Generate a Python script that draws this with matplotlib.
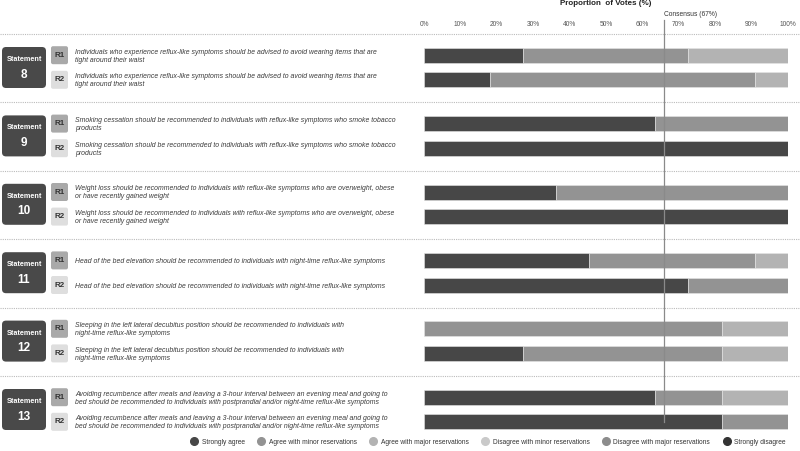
import matplotlib.pyplot as plt
from matplotlib.patches import FancyBboxPatch
from matplotlib.lines import Line2D

plt.rcParams["font.family"] = ["Liberation Sans", "DejaVu Sans"]

# ── data ────────────────────────────────────────────────────────────────
statements = ["8", "9", "10", "11", "12", "13"]
statement_texts = [
    "Individuals who experience reflux-like symptoms should be advised to avoid wearing items that are\ntight around their waist",
    "Smoking cessation should be recommended to individuals with reflux-like symptoms who smoke tobacco\nproducts",
    "Weight loss should be recommended to individuals with reflux-like symptoms who are overweight, obese\nor have recently gained weight",
    "Head of the bed elevation should be recommended to individuals with night-time reflux-like symptoms",
    "Sleeping in the left lateral decubitus position should be recommended to individuals with\nnight-time reflux-like symptoms",
    "Avoiding recumbence after meals and leaving a 3-hour interval between an evening meal and going to\nbed should be recommended to individuals with postprandial and/or night-time reflux-like symptoms",
]
categories = ["Strongly agree", "Agree with minor reservations", "Agree with major reservations",
              "Disagree with minor reservations", "Disagree with major reservations", "Strongly disagree"]
# % of votes per category, round 1 and round 2
round1 = [
    [27.3, 45.4, 27.3, 0, 0, 0],
    [63.6, 36.4, 0, 0, 0, 0],
    [36.4, 63.6, 0, 0, 0, 0],
    [45.5, 45.4, 9.1, 0, 0, 0],
    [0, 81.8, 18.2, 0, 0, 0],
    [63.6, 18.2, 18.2, 0, 0, 0],
]
round2 = [
    [18.2, 72.7, 9.1, 0, 0, 0],
    [100, 0, 0, 0, 0, 0],
    [100, 0, 0, 0, 0, 0],
    [72.7, 27.3, 0, 0, 0, 0],
    [27.3, 54.5, 18.2, 0, 0, 0],
    [81.8, 18.2, 0, 0, 0, 0],
]
ticks = [0, 10, 20, 30, 40, 50, 60, 70, 80, 90, 100]
consensus = 66  # drawn position; label says 67%

colors = ["#474747", "#939393", "#b3b3b3", "#c9c9c9", "#8c8c8c", "#333333"]

# ── layout (pixel units, y downward) ───────────────────────────────────
W, H = 800, 451
first_center = 67.5
group_step = 68.4
row_off = 12.3
bar_h = 15
bar_x0, bar_x1 = 424, 787.7

fig = plt.figure(figsize=(8, 4.51), dpi=100)
over = fig.add_axes([0, 0, 1, 1])
over.set_xlim(0, W)
over.set_ylim(H, 0)
over.axis("off")

ax = fig.add_axes([bar_x0 / W, 0, (bar_x1 - bar_x0) / W, 1])
ax.set_xlim(0, 100)
ax.set_ylim(H, 0)
ax.axis("off")
ax.patch.set_alpha(0)

# dotted separators
for i in range(len(statements)):
    yc = first_center + i * group_step
    over.plot([0, W], [yc - 33.5, yc - 33.5], color="#bbbbbb", lw=0.8,
              ls=(0, (1, 1)), zorder=1)

for i, s in enumerate(statements):
    yc = first_center + i * group_step
    # statement box
    over.add_patch(FancyBboxPatch((2, yc - 20.5), 44, 41,
                                  boxstyle="round,pad=0,rounding_size=4",
                                  fc="#494949", ec="none"))
    over.text(24, yc - 8, "Statement", color="white", fontsize=5.2,
              ha="center", va="center", fontweight="bold")
    over.text(24, yc + 7, s, color="white", fontsize=8.5,
              ha="center", va="center", fontweight="bold")
    for r, (lab, fc) in enumerate([("R1", "#a9a9a9"), ("R2", "#dedede")]):
        yr = yc + (2 * r - 1) * row_off
        over.add_patch(FancyBboxPatch((51, yr - 9), 17, 18,
                                      boxstyle="round,pad=0,rounding_size=2",
                                      fc=fc, ec="none"))
        over.text(59.5, yr, lab, color="#333333", fontsize=5.8,
                  ha="center", va="center", fontweight="bold")
        over.text(75, yr + 1, statement_texts[i], color="#3a3a3a",
                  fontsize=4.95, style="italic", ha="left", va="center",
                  linespacing=1.2)

    for r, vals in enumerate([round1[i], round2[i]]):
        yr = yc + (2 * r - 1) * row_off
        left = 0
        for v, c in zip(vals, colors):
            if v > 0:
                ax.barh(yr, v, left=left, height=bar_h, color=c,
                        edgecolor="#e6e6e6", linewidth=0.4, zorder=2)
            left += v

# consensus line
ax.plot([consensus, consensus], [20, 422], color="#8a8a8a", lw=0.9, zorder=3)
ax.text(consensus, 14, "Consensus (67%)", fontsize=4.8, ha="left",
        va="center", color="#333333")

for t in ticks:
    ax.text(t, 25, f"{t}%", fontsize=4.8, ha="center", va="center",
            color="#555555")

ax.text(50, 3.5, "Proportion  of Votes (%)", fontsize=5.8, ha="center",
        va="center", fontweight="bold", color="#222222")

handles = [Line2D([], [], marker="o", ls="none", markersize=5.5,
                  markerfacecolor=c, markeredgecolor=c) for c in colors]
fig.legend(handles, categories, loc="center right", ncol=6, frameon=False,
           bbox_to_anchor=(bar_x1 / W + 0.005, 1 - 442 / H), fontsize=4.8,
           handletextpad=0.6, columnspacing=2.0, handlelength=1.0,
           labelcolor="#333333")

fig.savefig("out.png", dpi=100)
